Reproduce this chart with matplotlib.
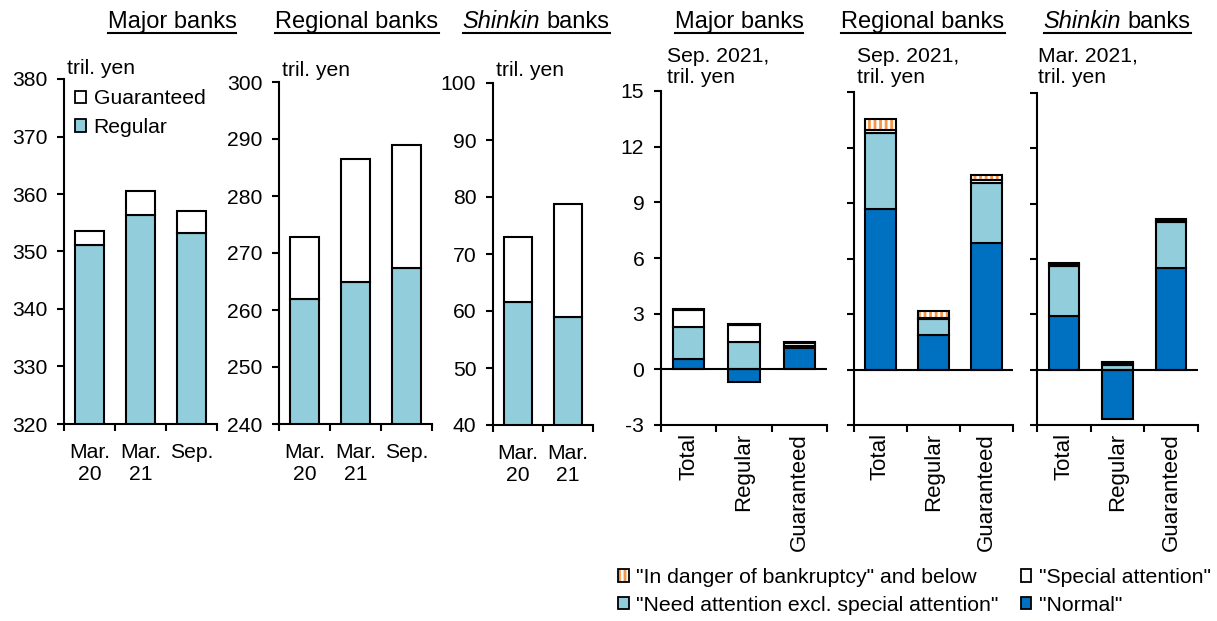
import numpy as np
import matplotlib
matplotlib.use("Agg")
import matplotlib.pyplot as plt
from matplotlib.patches import Patch
from matplotlib.lines import Line2D

plt.rcParams['font.family'] = ['Liberation Sans', 'DejaVu Sans']
plt.rcParams['hatch.linewidth'] = 2.0
plt.rcParams['axes.unicode_minus'] = False

# ---------------- data ----------------
left_cats_major = ["Mar.\n20", "Mar.\n21", "Sep."]
left_cats_regional = ["Mar.\n20", "Mar.\n21", "Sep."]
left_cats_shinkin = ["Mar.\n20", "Mar.\n21"]

major_regular = [351.1, 356.3, 353.3]
major_guaranteed = [2.5, 4.3, 3.8]
regional_regular = [261.9, 265.0, 267.4]
regional_guaranteed = [10.9, 21.5, 21.6]
shinkin_regular = [61.5, 59.0]
shinkin_guaranteed = [11.5, 19.8]

right_cats = ["Total", "Regular", "Guaranteed"]
right_units = ["Sep. 2021,\ntril. yen", "Sep. 2021,\ntril. yen", "Mar. 2021,\ntril. yen"]

major_normal = [0.54, -0.66, 1.14]
major_need = [1.74, 1.50, 0.14]
major_special = [0.92, 0.88, 0.12]
major_danger = [0.06, 0.08, 0.08]

regional_normal = [8.68, 1.84, 6.86]
regional_need = [4.10, 0.87, 3.24]
regional_special = [0.18, 0.10, 0.12]
regional_danger = [0.58, 0.33, 0.31]

shinkin_normal = [2.90, -2.65, 5.52]
shinkin_need = [2.71, 0.27, 2.51]
shinkin_special = [0.10, 0.10, 0.07]
shinkin_danger = [0.07, 0.07, 0.05]

# ---------------- style ----------------
C_LIGHT = "#92CDDC"
C_DARK = "#0070C0"
C_ORANGE = "#F79646"
EDGE_LW = 1.5
FS = 15.2
FS_TITLE = 17
FS_ROT = 16

W, H = 1217, 621
fig = plt.figure(figsize=(W / 100, H / 100), dpi=100)


def px_axes(x0, x1, ytop, ybot):
    return fig.add_axes([x0 / W, (H - ybot) / H, (x1 - x0) / W, (ybot - ytop) / H])


def style_axes(ax, n, labels, rotate=False):
    for s in ["top", "right"]:
        ax.spines[s].set_visible(False)
    for s in ["left", "bottom"]:
        ax.spines[s].set_linewidth(1.5)
    ax.set_xlim(-0.5, n - 0.5)
    ax.set_xticks(np.arange(n + 1) - 0.5)
    ax.set_xticklabels([])
    ax.set_xticks(np.arange(n), minor=True)
    if rotate:
        ax.set_xticklabels(labels, minor=True, rotation=90, va="top", ha="center", fontsize=FS_ROT)
        ax.tick_params(axis="x", which="minor", length=0, pad=6)
    else:
        ax.set_xticklabels(labels, minor=True, fontsize=FS, linespacing=1.2)
        ax.tick_params(axis="x", which="minor", length=0, pad=14)
    ax.tick_params(axis="x", which="major", direction="out", length=5, width=1.5)
    ax.tick_params(axis="y", direction="out", length=5, width=1.5, labelsize=FS, pad=7)


# ---------------- left panels ----------------
left_specs = [
    (64, 217, 79, 424, major_regular, major_guaranteed, left_cats_major, (320, 380), 68),
    (279, 432, 82, 424, regional_regular, regional_guaranteed, left_cats_regional, (240, 300), 70),
    (493, 593, 83, 425, shinkin_regular, shinkin_guaranteed, left_cats_shinkin, (40, 100), 70),
]
for i, (x0, x1, yt, yb, reg, gua, cats, ylim, uy) in enumerate(left_specs):
    ax = px_axes(x0, x1, yt, yb)
    n = len(cats)
    x = np.arange(n)
    ax.bar(x, reg, width=0.57, color=C_LIGHT, edgecolor="black", linewidth=EDGE_LW, zorder=2)
    ax.bar(x, gua, bottom=reg, width=0.57, color="white", edgecolor="black", linewidth=EDGE_LW, zorder=2)
    ax.set_ylim(*ylim)
    ax.set_yticks(np.arange(ylim[0], ylim[1] + 1, 10))
    style_axes(ax, n, cats)
    fig.text((x0 + 3) / W, (H - uy) / H, "tril. yen", fontsize=FS, ha="left", va="center")
    if i == 0:
        hg = Patch(facecolor="white", edgecolor="black", linewidth=1.3)
        hr = Patch(facecolor=C_LIGHT, edgecolor="black", linewidth=1.3)
        ax.legend([hg, hr], ["Guaranteed", "Regular"], loc="upper left",
                  bbox_to_anchor=(0.07, 0.97), frameon=False, fontsize=FS,
                  handlelength=0.55, handleheight=0.55, handletextpad=0.35,
                  labelspacing=0.45, borderaxespad=0, borderpad=0)


# ---------------- right panels ----------------
def stacked(ax, series, kinds):
    n = len(series[0])
    x = np.arange(n)
    pos = np.zeros(n)
    neg = np.zeros(n)
    for vals, kind in zip(series, kinds):
        vals = np.asarray(vals, dtype=float)
        bottom = np.where(vals >= 0, pos, neg)
        if kind == "danger":
            ax.bar(x, vals, bottom=bottom, width=0.57, color="white", edgecolor=C_ORANGE,
                   hatch="|||", linewidth=0, zorder=2)
            ax.bar(x, vals, bottom=bottom, width=0.57, fill=False, edgecolor="black",
                   linewidth=EDGE_LW, zorder=3)
        else:
            ax.bar(x, vals, bottom=bottom, width=0.57, color=kind, edgecolor="black",
                   linewidth=EDGE_LW, zorder=2)
        pos = pos + np.where(vals >= 0, vals, 0)
        neg = neg + np.where(vals < 0, vals, 0)


right_specs = [
    (661, 827, 91, 425, [major_normal, major_need, major_special, major_danger], True, 667),
    (854, 1013, 92, 425, [regional_normal, regional_need, regional_special, regional_danger], False, 857),
    (1037, 1198, 93, 425, [shinkin_normal, shinkin_need, shinkin_special, shinkin_danger], False, 1038),
]
for j, (x0, x1, yt, yb, series, show_labels, ux) in enumerate(right_specs):
    ax = px_axes(x0, x1, yt, yb)
    stacked(ax, series, [C_DARK, C_LIGHT, "white", "danger"])
    ax.set_ylim(-3, 15)
    ax.set_yticks(np.arange(-3, 16, 3))
    style_axes(ax, 3, right_cats, rotate=True)
    if not show_labels:
        ax.set_yticklabels([])
    ax.axhline(0, color="black", linewidth=1.5, zorder=4)
    fig.text(ux / W, (H - 67) / H, right_units[j], fontsize=FS, ha="left", va="center", linespacing=1.15)

# ---------------- titles (underlined) ----------------
title_specs = [(172, "Major banks", False), (357, "Regional banks", False), (536, None, True),
               (739, "Major banks", False), (923, "Regional banks", False), (1117, None, True)]
fig.canvas.draw()
renderer = fig.canvas.get_renderer()
BASE = 28
for cx, txt, shinkin in title_specs:
    yb = (H - BASE) / H
    if not shinkin:
        t = fig.text(cx / W, yb, txt, fontsize=FS_TITLE, ha="center", va="baseline")
        bb = t.get_window_extent(renderer)
        x_left, x_right = bb.x0, bb.x1
    else:
        t1 = fig.text(0, yb, "Shinkin", fontsize=FS_TITLE, style="italic", ha="left", va="baseline")
        t2 = fig.text(0, yb, "banks", fontsize=FS_TITLE, ha="left", va="baseline")
        w1 = t1.get_window_extent(renderer).width
        w2 = t2.get_window_extent(renderer).width
        gap = 6.5
        tot = w1 + gap + w2
        xl = cx - tot / 2
        t1.set_x(xl / W)
        t2.set_x((xl + w1 + gap) / W)
        x_left, x_right = xl, xl + tot
    uy = (H - BASE - 4.5) / H
    fig.add_artist(Line2D([x_left / W, x_right / W], [uy, uy], transform=fig.transFigure,
                          color="black", linewidth=1.5))

# ---------------- bottom legend ----------------
h_danger = Patch(facecolor="white", edgecolor=C_ORANGE, hatch="|||", linewidth=0)
h_danger_edge = Patch(fill=False, edgecolor="black", linewidth=1.3)
h_need = Patch(facecolor=C_LIGHT, edgecolor="black", linewidth=1.3)
h_special = Patch(facecolor="white", edgecolor="black", linewidth=1.3)
h_normal = Patch(facecolor=C_DARK, edgecolor="black", linewidth=1.3)
fig.legend([(h_danger, h_danger_edge), h_need, h_special, h_normal],
           ['"In danger of bankruptcy" and below', '"Need attention excl. special attention"',
            '"Special attention"', '"Normal"'],
           ncol=2, loc="upper left", bbox_to_anchor=(618 / W, (H - 568) / H), frameon=False,
           fontsize=15.3, handlelength=0.5, handleheight=0.5, handletextpad=0.35,
           labelspacing=0.42, columnspacing=1.05, borderaxespad=0, borderpad=0)

fig.savefig("out.png", dpi=100)
